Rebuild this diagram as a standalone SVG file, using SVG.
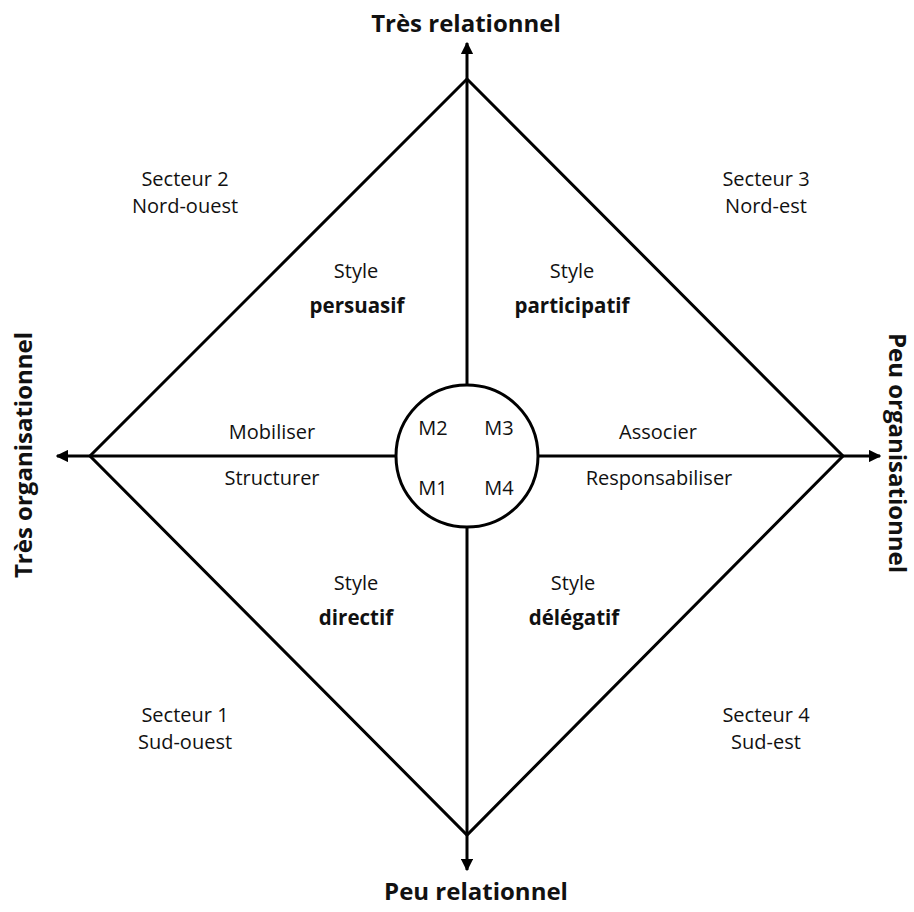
<svg xmlns="http://www.w3.org/2000/svg" width="914" height="912" viewBox="0 0 914 912">
  <style>
    .line { stroke: #000; stroke-width: 3; fill: none; }
    .lbl { font-family: "Open Sans", "Noto Sans", "Liberation Sans", sans-serif; font-size: 20px; fill: #111; text-anchor: middle; }
    .style-name { font-family: "Open Sans", "Noto Sans", "Liberation Sans", sans-serif; font-size: 20.5px; font-weight: bold; fill: #111; text-anchor: middle; }
    .axis { font-family: "Open Sans", "Noto Sans", "Liberation Sans", sans-serif; font-size: 24px; font-weight: bold; fill: #111; text-anchor: middle; }
  </style>
  <defs>
    <marker id="arrow" viewBox="0 0 10 10" refX="9" refY="5" markerWidth="4.2" markerHeight="4.2" orient="auto" markerUnits="strokeWidth">
      <path d="M0,0 L10,5 L0,10 Z" fill="#000"/>
    </marker>
  </defs>
  <rect width="914" height="912" fill="#fff"/>

  <!-- axes and diamond outline -->
  <g id="connectors">
    <line class="line" x1="467" y1="456" x2="467" y2="43" marker-end="url(#arrow)"/>
    <line class="line" x1="467" y1="456" x2="467" y2="870" marker-end="url(#arrow)"/>
    <line class="line" x1="467" y1="456" x2="57" y2="456" marker-end="url(#arrow)"/>
    <line class="line" x1="467" y1="456" x2="880" y2="456" marker-end="url(#arrow)"/>
    <polygon class="line" points="467,79 843,456 467,835 90,456" stroke-linejoin="miter"/>
  </g>

  <!-- central circle with the four modes -->
  <g id="centre">
    <circle cx="467" cy="456" r="71" fill="#fff" stroke="#000" stroke-width="3"/>
    <text class="lbl" x="433" y="435">M2</text>
    <text class="lbl" x="499" y="435">M3</text>
    <text class="lbl" x="433" y="495">M1</text>
    <text class="lbl" x="499" y="495">M4</text>
  </g>

  <!-- axis titles -->
  <g id="axis-top"><text class="axis" x="466" y="32">Très relationnel</text></g>
  <g id="axis-bottom"><text class="axis" x="476" y="900">Peu relationnel</text></g>
  <g id="axis-left"><text class="axis" transform="translate(32,455) rotate(-90)">Très organisationnel</text></g>
  <g id="axis-right"><text class="axis" transform="translate(889,453) rotate(90)">Peu organisationnel</text></g>

  <!-- sectors -->
  <g id="secteur-2">
    <text class="lbl" x="185" y="186">Secteur 2</text>
    <text class="lbl" x="185" y="213">Nord-ouest</text>
  </g>
  <g id="secteur-3">
    <text class="lbl" x="766" y="186">Secteur 3</text>
    <text class="lbl" x="766" y="213">Nord-est</text>
  </g>
  <g id="secteur-1">
    <text class="lbl" x="185" y="722">Secteur 1</text>
    <text class="lbl" x="185" y="749">Sud-ouest</text>
  </g>
  <g id="secteur-4">
    <text class="lbl" x="766" y="722">Secteur 4</text>
    <text class="lbl" x="766" y="749">Sud-est</text>
  </g>

  <!-- styles -->
  <g id="style-persuasif">
    <text class="lbl" x="356" y="278">Style</text>
    <text class="style-name" x="357" y="313">persuasif</text>
  </g>
  <g id="style-participatif">
    <text class="lbl" x="572" y="278">Style</text>
    <text class="style-name" x="572" y="313">participatif</text>
  </g>
  <g id="style-directif">
    <text class="lbl" x="356" y="590">Style</text>
    <text class="style-name" x="356" y="625">directif</text>
  </g>
  <g id="style-delegatif">
    <text class="lbl" x="573" y="590">Style</text>
    <text class="style-name" x="574" y="625">délégatif</text>
  </g>

  <!-- verbs along the horizontal axis -->
  <g id="verbes-gauche">
    <text class="lbl" x="272" y="439">Mobiliser</text>
    <text class="lbl" x="272" y="485">Structurer</text>
  </g>
  <g id="verbes-droite">
    <text class="lbl" x="658" y="439">Associer</text>
    <text class="lbl" x="659" y="485">Responsabiliser</text>
  </g>
</svg>
